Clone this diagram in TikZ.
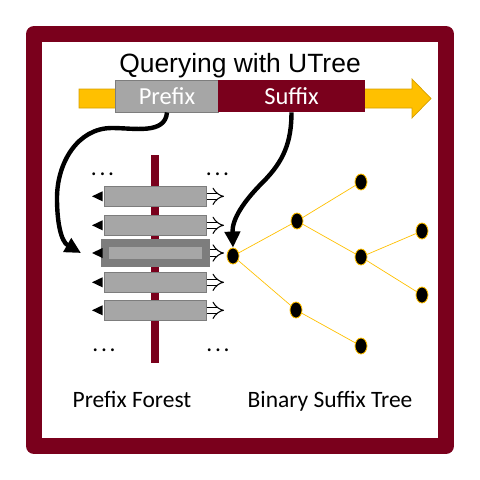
\documentclass[tikz,border=0pt]{standalone}
\usepackage{fontspec}
\setmainfont{Carlito}
\newfontfamily\titlefont{Liberation Sans}
\usetikzlibrary{arrows,arrows.meta,shapes.geometric}

\definecolor{utreeRed}{RGB}{122,0,28}
\definecolor{utreeGold}{RGB}{255,192,0}
\definecolor{utreeGoldDark}{RGB}{214,160,0}
\definecolor{barGray}{RGB}{166,166,166}
\definecolor{barDark}{RGB}{125,125,125}

\begin{document}
\begin{tikzpicture}[x=0.025cm,y=-0.025cm,
    bar/.style={rectangle, draw=barDark, fill=barGray, line width=0.7pt,
                minimum width=2.525cm, minimum height=0.5cm, inner sep=0pt},
    tnode/.style={ellipse, draw=utreeGold, fill=black, line width=0.6pt,
                  minimum width=0.3cm, minimum height=0.4cm, inner sep=0pt},
    branch/.style={draw=utreeGold, line width=0.5pt},
    query/.style={line width=0.11cm, -{Triangle[length=0.4cm,width=0.38cm]}},
    lookup/.style={double, double distance=3.6pt, line width=0.75pt, -{Implies}},
    dots/.style={anchor=base, font=\fontsize{16.7}{20}\selectfont}]

\useasboundingbox (0,0) rectangle (480,480);

% frame
\draw[utreeRed, line width=0.4cm, line join=round] (34,34) rectangle (446,446);

\node[anchor=base, font=\titlefont\fontsize{18.8}{22}\selectfont] (title) at (240,72) {Querying with UTree};

% query band
\draw[fill=utreeGold, draw=utreeGoldDark, line width=0.5pt]
    (79,89) -- (412,89) -- (412,79) -- (431,98.5) -- (412,118) -- (412,108) -- (79,108) -- cycle;

\node[rectangle,
      draw = barDark,
      fill = barGray,
      line width = 0.7pt,
      inner sep = 0pt,
      minimum width = 2.55cm,
      minimum height = 0.8cm
      ] (prefix) at (167,96) {};
\node[text=white, font=\fontsize{17.4}{20}\selectfont] at (prefix.center) {Prefix};

\node[rectangle,
      fill = utreeRed,
      inner sep = 0pt,
      minimum width = 3.675cm,
      minimum height = 0.8cm
      ] (suffix) at (291.5,96) {};
\node[text=white, font=\fontsize{17.4}{20}\selectfont] at (suffix.center) {Suffix};

% prefix forest
\node[rectangle,
      fill = utreeRed,
      inner sep = 0pt,
      minimum width = 0.2cm,
      minimum height = 5.2cm
      ] (trunk) at (155,259) {};

\node[bar] (r1) at (155.5,196.3) {};
\node[bar] (r2) at (155.5,225.3) {};
\node[rectangle,
      fill = barDark,
      inner sep = 0pt,
      minimum width = 2.725cm,
      minimum height = 0.7cm
      ] (r3) at (155.5,253) {};
\node[rectangle,
      fill = barGray,
      inner sep = 0pt,
      minimum width = 2.325cm,
      minimum height = 0.31cm
      ] (hit) at (r3.center) {};
\node[bar] (r4) at (155.5,282.3) {};
\node[bar] (r5) at (155.5,310.3) {};

\foreach \n/\y in {r1/196.3, r2/225.3, r3/253, r4/282.3, r5/310.3}{
    \fill (92,\y) -- (102.5,\y-5) -- (102.5,\y+5) -- cycle;
    \draw[lookup] (\n.east) -- (224,\y);
}

\node[dots] (dtl) at (102.5,175) {.\kern2pt.\kern2pt.};
\node[dots] (dtr) at (217.5,175) {.\kern2pt.\kern2pt.};
\node[dots] (dbl) at (104,351.5) {.\kern2pt.\kern2pt.};
\node[dots] (dbr) at (218,351.5) {.\kern2pt.\kern2pt.};

% binary suffix tree
\node[tnode] (root) at (233,256) {};
\node[tnode] (t0) at (297,221) {};
\node[tnode] (t1) at (296,310) {};
\node[tnode] (t00) at (361,182) {};
\node[tnode] (t01) at (361,257) {};
\node[tnode] (t10) at (361,346) {};
\node[tnode] (t010) at (422,231) {};
\node[tnode] (t011) at (422,295) {};

\path[branch]
    (root) edge (t0)
    (root) edge (t1)
    (t0) edge (t00)
    (t0) edge (t01)
    (t01) edge (t010)
    (t01) edge (t011)
    (t1) edge (t10);

% query arrows
\coordinate (forestin) at (81,253);
\draw[query] (prefix.south) to[out=-95, in=0] (112,128) to[out=180, in=90] (57,198) to[out=-90, in=150] (forestin);
\draw[query] (suffix.south) to[out=-90, in=45] (263,182) to[out=225, in=92] (root.north);

\node[anchor=base, font=\fontsize{16.7}{20}\selectfont] (forestlabel) at (132,407) {Prefix Forest};
\node[anchor=base, font=\fontsize{16.7}{20}\selectfont] (treelabel) at (330,407) {Binary Suffix Tree};

\end{tikzpicture}
\end{document}
